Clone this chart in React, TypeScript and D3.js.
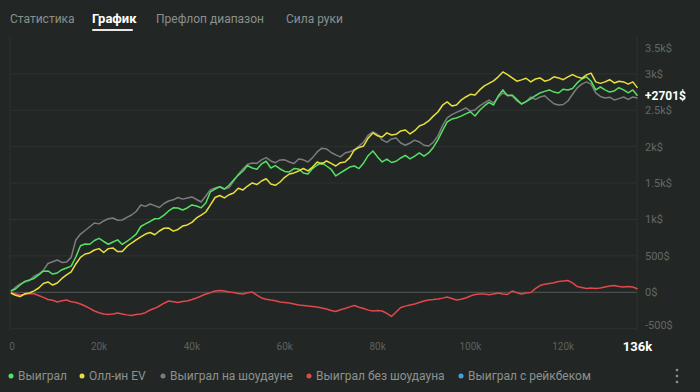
import React from 'react';
import * as d3 from 'd3';

// hands played, thousands
const hands = d3.range(1, 137);

const won = [18, 45, 100, 150, 169, 190, 238, 290, 293, 250, 265, 310, 334, 360, 485, 640, 664, 660, 712, 740, 698, 660, 691, 720, 657, 700, 746, 800, 904, 940, 973, 1010, 1014, 1060, 1117, 1160, 1158, 1130, 1158, 1200, 1186, 1160, 1227, 1380, 1419, 1450, 1419, 1470, 1543, 1610, 1667, 1740, 1708, 1690, 1763, 1800, 1708, 1740, 1694, 1660, 1653, 1700, 1694, 1640, 1625, 1700, 1749, 1780, 1735, 1690, 1598, 1640, 1680, 1720, 1735, 1700, 1777, 1880, 1942, 1860, 1790, 1830, 1783, 1800, 1845, 1880, 1832, 1870, 1914, 1870, 1914, 1990, 2093, 2220, 2340, 2380, 2395, 2420, 2450, 2480, 2422, 2500, 2560, 2610, 2573, 2700, 2780, 2700, 2711, 2650, 2587, 2620, 2656, 2700, 2738, 2760, 2780, 2750, 2738, 2790, 2780, 2800, 2876, 2930, 2959, 2900, 2780, 2820, 2780, 2750, 2766, 2810, 2780, 2740, 2780, 2701];

const allinEv = [-10, -40, -58, -20, -10, 20, 59, 120, 142, 100, 128, 190, 238, 280, 389, 480, 526, 540, 581, 600, 547, 600, 609, 560, 561, 630, 677, 720, 760, 800, 822, 790, 842, 880, 883, 840, 863, 910, 925, 960, 1021, 1060, 1103, 1200, 1302, 1330, 1296, 1340, 1364, 1430, 1406, 1460, 1502, 1480, 1529, 1560, 1488, 1470, 1515, 1580, 1625, 1640, 1667, 1700, 1667, 1720, 1790, 1760, 1804, 1770, 1735, 1780, 1790, 1850, 1955, 1990, 2010, 2120, 2189, 2150, 2134, 2190, 2161, 2170, 2216, 2230, 2175, 2220, 2285, 2310, 2354, 2420, 2477, 2570, 2615, 2560, 2573, 2640, 2683, 2720, 2711, 2780, 2835, 2870, 2904, 2960, 3027, 2990, 2945, 2900, 2918, 2940, 2890, 2930, 2945, 2900, 2918, 2960, 2945, 2920, 2959, 2990, 2959, 2940, 2986, 3010, 2890, 2870, 2890, 2920, 2876, 2900, 2890, 2860, 2890, 2808];

const showdown = [15, 70, 114, 140, 162, 220, 251, 300, 396, 420, 444, 410, 416, 480, 718, 800, 849, 900, 952, 940, 980, 1010, 1021, 990, 993, 1030, 1062, 1110, 1199, 1180, 1213, 1190, 1165, 1220, 1254, 1270, 1302, 1280, 1296, 1310, 1275, 1240, 1323, 1410, 1433, 1450, 1419, 1440, 1529, 1620, 1694, 1760, 1777, 1770, 1818, 1850, 1804, 1780, 1818, 1820, 1790, 1770, 1831, 1820, 1790, 1850, 1928, 1980, 1969, 1920, 1887, 1860, 1914, 1930, 1955, 2010, 2065, 2160, 2203, 2170, 2093, 2060, 2106, 2120, 2051, 2020, 2051, 2090, 2065, 2020, 2010, 2060, 2148, 2290, 2395, 2440, 2471, 2500, 2532, 2490, 2505, 2560, 2601, 2640, 2601, 2680, 2738, 2710, 2697, 2630, 2587, 2620, 2683, 2650, 2683, 2700, 2642, 2590, 2573, 2580, 2628, 2720, 2807, 2860, 2890, 2860, 2738, 2690, 2670, 2680, 2642, 2660, 2683, 2650, 2683, 2670];

const nonShowdown = [-3, -20, -37, -30, -16, -20, -44, -70, -99, -110, -133, -115, -106, -130, -140, -160, -188, -220, -257, -280, -298, -305, -298, -285, -298, -310, -319, -305, -298, -280, -243, -220, -188, -150, -120, -130, -140, -125, -120, -100, -78, -50, -23, -5, 18, 25, 18, 5, -3, -15, -23, -5, 4, -40, -78, -95, -106, -115, -133, -140, -147, -160, -174, -180, -188, -195, -202, -215, -230, -250, -264, -240, -223, -200, -182, -205, -223, -245, -257, -250, -257, -290, -332, -270, -209, -190, -174, -160, -140, -120, -106, -100, -92, -80, -65, -85, -106, -95, -78, -50, -30, -25, -23, -35, -23, -10, -23, -30, 18, -5, -23, -10, -3, 50, 93, 110, 121, 130, 148, 155, 162, 130, 80, 65, 52, 60, 52, 60, 73, 85, 93, 80, 73, 80, 73, 45];

const yTicks = [-500, 0, 500, 1000, 1500, 2000, 2500, 3000, 3500];
const xTicks = [0, 20, 40, 60, 80, 100, 120];
const tabs = ['Статистика', 'График', 'Префлоп диапазон', 'Сила руки'];
const legend = [
  { name: 'Выиграл', color: '#55e064' },
  { name: 'Олл-ин EV', color: '#e8df3e' },
  { name: 'Выиграл на шоудауне', color: '#7c7c7c' },
  { name: 'Выиграл без шоудауна', color: '#e2474b' },
  { name: 'Выиграл с рейкбеком', color: '#3fa4e0' },
];

const fmtY = (v: number) => (Math.abs(v) >= 1000 ? `${v / 1000}k$` : `${v}$`);

export default function App() {
  const W = 700;
  const H = 392;
  const left = 10;
  const right = 637;
  const x = d3.scaleLinear().domain([0, 136]).range([6.2, 637.5]);
  const y = d3.scaleLinear().domain([0, 3000]).range([292.3, 73.9]);

  const line = (vals: number[]) =>
    d3.line<number>().x((_, i) => x(hands[i])).y(v => y(v))(vals) || '';

  const series = [
    { vals: nonShowdown, color: legend[3].color },
    { vals: showdown, color: legend[2].color },
    { vals: won, color: legend[0].color },
    { vals: allinEv, color: legend[1].color },
  ];

  const tabX = [10, 92, 156, 286];
  const legendX = [11, 82, 163, 309, 461];
  const font = 'Roboto, "Noto Sans", sans-serif';
  const last = won[won.length - 1];

  return (
    <svg width={W} height={H} style={{ position: 'absolute', left: 0, top: 0 }} fontFamily={font}>
      <rect width={W} height={H} fill="#222725" />
      {tabs.map((t, i) => (
        <text key={t} x={tabX[i]} y={23} fontSize={i === 1 ? 13 : 12} fill={i === 1 ? '#ffffff' : '#8a8f8c'} fontWeight={i === 1 ? 700 : 400}>
          {t}
        </text>
      ))}
      <rect x={92} y={29} width={41} height={2} fill="#e8e8e8" rx={1} />

      {yTicks.filter(t => t < 3500).map(t => (
        <line key={t} x1={left} x2={right} y1={y(t)} y2={y(t)} stroke={t === 0 ? '#555a58' : '#2e3331'} strokeWidth={1} />
      ))}
      <line x1={left} x2={left} y1={37} y2={331} stroke="#2e3331" />
      <line x1={right} x2={right} y1={37} y2={331} stroke="#2e3331" />

      {series.map((s, i) => (
        <path key={i} d={line(s.vals)} fill="none" stroke={s.color} strokeWidth={1.5} strokeLinejoin="round" />
      ))}

      {yTicks.map(t => (
        <text key={t} x={645} y={Math.min(Math.max(y(t), 48), 325)} dy="0.35em" fontSize={11} fill="#626765">
          {fmtY(t)}
        </text>
      ))}
      <text x={645} y={y(last)} dy="0.35em" fontSize={12} fontWeight={700} fill="#ffffff">
        {`+${last}$`}
      </text>

      {xTicks.map(t => (
        <text key={t} x={Math.max(x(t), 12)} y={346} dy="0.35em" fontSize={10} fill="#5c615e" textAnchor="middle">
          {t === 0 ? '0' : `${t}k`}
        </text>
      ))}
      <text x={x(136)} y={346} dy="0.35em" fontSize={13} fontWeight={700} fill="#ffffff" textAnchor="middle">
        136k
      </text>

      {legend.map(l => l.name).map((name, i) => (
        <g key={name}>
          <circle cx={legendX[i]} cy={376} r={2.5} fill={legend[i].color} />
          <text x={legendX[i] + 7} y={376} dy="0.35em" fontSize={12} fill="#8d918f">
            {name}
          </text>
        </g>
      ))}
      {[370, 376, 382].map(cy => (
        <circle key={cy} cx={677} cy={cy} r={1.3} fill="#8d918f" />
      ))}
    </svg>
  );
}
